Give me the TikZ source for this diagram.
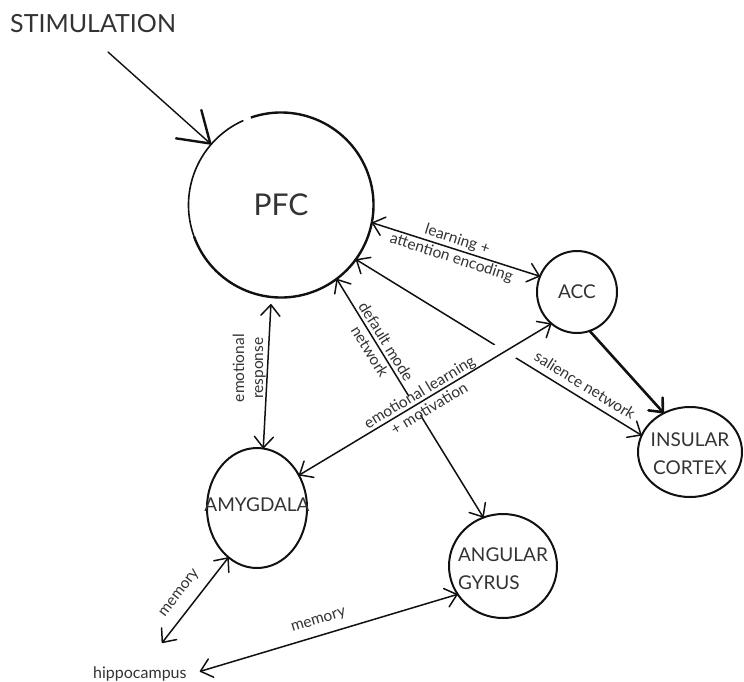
\documentclass[tikz,border=0pt]{standalone}
\usepackage{fontspec}
\setmainfont{Lato}
\usetikzlibrary{arrows.meta,shapes.geometric}
\definecolor{ink}{HTML}{111111}
\definecolor{txt}{HTML}{333333}
\begin{document}
\begin{tikzpicture}[x=1pt,y=-1pt,
  every node/.style={text=txt},
  >={Straight Barb[length=11pt,width=19pt,round]},
  region/.style={draw=ink, line width=2pt, ellipse, inner sep=0pt, outer sep=0pt},
  lbl/.style={font=\fontsize{19}{28}\selectfont, text=txt, inner sep=0pt},
  link/.style={draw=ink, line width=1.5pt, line cap=round},
  lab/.style={font=\fontsize{15.5}{19}\selectfont, text=txt, inner sep=2pt, align=center},
  halo/.style={draw=white, line width=22pt}]
\useasboundingbox (0,0) rectangle (744,681);

% regions
\node[circle, minimum size=185pt, inner sep=0pt, outer sep=0pt,
      font=\fontsize{30}{36}\selectfont] (pfc) at (281,205) {PFC};
\draw[ink, line width=1.6pt] (pfc.114) arc[start angle=114, end angle=200, radius=92.5pt];
\draw[ink, line width=2.4pt] (pfc.200) arc[start angle=200, end angle=469, radius=92.5pt];

\node[region, minimum width=80pt, minimum height=82pt,
      label={[lbl]center:ACC}] (acc) at (577,292) {};
\node[region, minimum width=104pt, minimum height=90pt,
      label={[lbl, align=center, yshift=-2pt]center:{INSULAR\\CORTEX}}] (ins) at (690,452) {};
\node[region, minimum width=100pt, minimum height=120pt,
      label={[lbl, yshift=3pt]center:AMYGDALA}] (amyg) at (257,508) {};
\node[region, minimum width=108pt, minimum height=104pt,
      label={[lbl, align=left, yshift=-3pt]center:{ANGULAR\\GYRUS}}] (ang) at (503,566) {};

\node[anchor=base west, inner sep=0pt, font=\fontsize{25}{30}\selectfont] (stim) at (10,32) {STIMULATION};
\node[anchor=base west, inner sep=0pt, font=\fontsize{16}{19}\selectfont] (hippo) at (93,678) {hippocampus};
\coordinate (s0) at (108,52);

% connectors
\draw[link, line width=1.4pt, -{Straight Barb[length=29pt,width=38pt,round,line width=2.4pt]}] (s0) -- (pfc.139.7);

\draw[link, <->] (pfc.-11.4) -- node[lab, sloped, pos=0.49] {learning +\\attention encoding} (acc.157.6);
\draw[link, <->] (pfc.-36.6) -- node[lab, sloped, above=4.5pt, pos=0.778] {salience network} (ins.161);
\draw[link, <->] (pfc.-53.3) -- node[lab, sloped, pos=0.283] {default mode\\network} (ang.112);
\draw[link, <->, shorten <=7pt] (pfc.-96) -- node[lab, rotate=90, anchor=south, inner sep=1pt, pos=0.47] {emotional\\response} (amyg.84.6);

\path[halo, shorten <=118pt, shorten >=38pt] (amyg.38.7) -- (acc.-129.7);
\draw[link, <->] (amyg.38.7) -- node[lab, sloped, pos=0.496] {emotional learning\\+ motivation} (acc.-129.7);

\draw[link, line width=2.6pt, ->] (acc.-72) -- (ins.124.7);

\draw[link, <->] ([shift={(22pt,23pt)}]hippo.north) -- node[lab, sloped, above=8pt, pos=0.462] {memory} (amyg.-120);
\draw[link, <->] ([shift={(13pt,2pt)}]hippo.east) -- node[lab, sloped, above=6pt, pos=0.477] {memory} (ang.-148);
\end{tikzpicture}
\end{document}
